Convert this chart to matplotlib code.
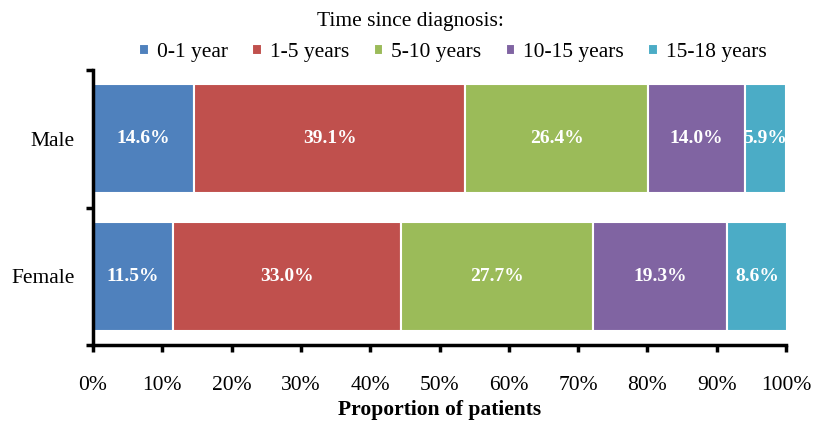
import matplotlib
matplotlib.use("Agg")
import matplotlib.pyplot as plt
from matplotlib.ticker import FixedLocator, PercentFormatter

plt.rcParams['font.family'] = ['Liberation Serif', 'DejaVu Serif']

categories = ["Male", "Female"]
series_names = ["0-1 year", "1-5 years", "5-10 years", "10-15 years", "15-18 years"]
male_values = [14.6, 39.1, 26.4, 14.0, 5.9]
female_values = [11.5, 33.0, 27.7, 19.3, 8.6]
colors = ["#4F81BD", "#C0504D", "#9BBB59", "#8064A2", "#4BACC6"]
xticks = [0, 10, 20, 30, 40, 50, 60, 70, 80, 90, 100]

FS = 15.5

fig = plt.figure(figsize=(8.28, 4.21), dpi=100)
ax = fig.add_axes([0.1123, 0.1805, 0.8370, 0.6532])

ypos = [0, 1]
data = list(zip(male_values, female_values))
left = [0.0, 0.0]
for i, name in enumerate(series_names):
    vals = data[i]
    ax.barh(ypos, vals, left=left, height=0.79, color=colors[i],
            edgecolor="white", linewidth=1.5, label=name)
    for y, v, l in zip(ypos, vals, left):
        ax.text(l + v / 2, y, f"{v:.1f}%", ha="center", va="center",
                color="white", fontweight="bold", fontsize=14)
    left = [a + b for a, b in zip(left, vals)]

ax.set_xlim(0, 100)
ax.set_ylim(1.5, -0.5)
ax.set_yticks(ypos)
ax.set_yticklabels(categories, fontsize=FS)
ax.yaxis.set_minor_locator(FixedLocator([-0.5, 0.5, 1.5]))
ax.tick_params(axis="y", which="major", length=0, pad=13)
ax.tick_params(axis="y", which="minor", length=5, width=2.5, direction="out")
ax.set_xticks(xticks)
ax.xaxis.set_major_formatter(PercentFormatter(decimals=0))
ax.tick_params(axis="x", which="major", length=5, width=2.5, direction="out",
               labelsize=FS, pad=17)
ax.set_xlabel("Proportion of patients", fontsize=FS, fontweight="bold", labelpad=4)

for s in ["top", "right"]:
    ax.spines[s].set_visible(False)
ax.spines["left"].set_linewidth(2.5)
ax.spines["bottom"].set_linewidth(2.5)

fig.text(0.496, 0.948, "Time since diagnosis:", ha="center", va="center", fontsize=FS)
handles, labels = ax.get_legend_handles_labels()
fig.legend(handles, labels, loc="center", bbox_to_anchor=(0.547, 0.875), ncol=5,
           frameon=False, fontsize=FS, handlelength=0.45, handleheight=0.45,
           handletextpad=0.35, columnspacing=1.15)

fig.savefig("out.png", dpi=100)
